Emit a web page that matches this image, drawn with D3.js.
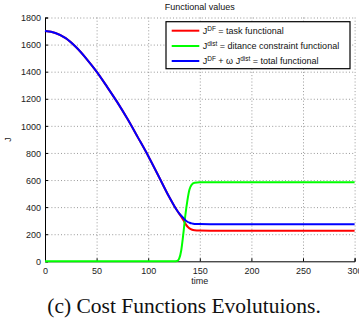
<!DOCTYPE html>
<html><head><meta charset="utf-8">
<script src="https://cdn.jsdelivr.net/npm/d3@7"></script>
<style>html,body{margin:0;padding:0;background:#fff;}svg{display:block;}</style>
</head><body>
<script>
const time     = [0,10,20,30,40,50,60,70,80,90,100,110,120,125,128,130,132,134,136,138,140,142,145,150,160,200,250,300];
const taskF    = [1700,1686,1648,1582,1497,1400,1290,1175,1050,915,778,630,480,412,375,352,330,305,278,257,243,235,229,227,226,226,226,226];
const distF    = [0,0,0,0,0,0,0,0,0,0,0,0,0,0,2,20,80,200,340,450,530,565,580,583,583,583,583,583];
const totalF   = [1700,1686,1648,1582,1497,1400,1290,1175,1050,915,778,630,480,412,375,354,336,320,303,292,285,280,276,275,274,274,274,274];
const xTicks = [0,50,100,150,200,250,300];
const yTicks = [0,200,400,600,800,1000,1200,1400,1600,1800];
const seriesNames = ["task","dist","total"];
const seriesColors = ["#ff0000","#00ff00","#0000ff"];

const W=359,H=321;
const svg=d3.select("body").append("svg").attr("width",W).attr("height",H);
const L=45,R=354.6,T=17.5,B=261.3;
const x=d3.scaleLinear().domain([0,300]).range([L,R]);
const y=d3.scaleLinear().domain([0,1800]).range([B,T]);
const font="'Liberation Sans', Arial, sans-serif";

// grid
const g=svg.append("g");
g.selectAll(".gx").data(xTicks.slice(1)).enter().append("line")
 .attr("x1",d=>x(d)+0.5).attr("x2",d=>x(d)+0.5).attr("y1",T).attr("y2",B)
 .attr("stroke","#555").attr("stroke-width",0.6).attr("stroke-dasharray","1,2.2");
g.selectAll(".gy").data(yTicks.slice(1)).enter().append("line")
 .attr("y1",d=>y(d)+0.5).attr("y2",d=>y(d)+0.5).attr("x1",L).attr("x2",R)
 .attr("stroke","#555").attr("stroke-width",0.6).attr("stroke-dasharray","1,2.2");

// axes
const xAxis=d3.axisBottom(x).tickValues(xTicks).tickSize(-3).tickPadding(6).tickFormat(d3.format("d"));
const yAxis=d3.axisLeft(y).tickValues(yTicks).tickSize(-3).tickPadding(4).tickFormat(d3.format("d"));
const gx=svg.append("g").attr("transform",`translate(0,${B})`).call(xAxis);
const gy=svg.append("g").attr("transform",`translate(${L},0)`).call(yAxis);
[gx,gy].forEach(a=>{
  a.select(".domain").attr("stroke","#000").attr("stroke-width",1);
  a.selectAll(".tick line").attr("stroke","#000");
  a.selectAll("text").attr("font-family",font).attr("font-size",9).attr("fill","#222");
});
gy.selectAll("text").attr("dy","0.35em");

// lines
const data=[taskF,distF,totalF];
const line=d3.line().x((d,i)=>x(time[i])).y(d=>y(d)).curve(d3.curveMonotoneX);
data.forEach((s,k)=>{
  svg.append("path").datum(s).attr("d",line).attr("fill","none")
   .attr("stroke",seriesColors[k]).attr("stroke-width",2).attr("stroke-linejoin","round");
});

// title and labels
svg.append("text").attr("x",(L+R)/2).attr("y",9.5).attr("text-anchor","middle")
 .attr("font-family",font).attr("font-size",9).attr("fill","#111").text("Functional values");
svg.append("text").attr("x",(L+R)/2).attr("y",284).attr("text-anchor","middle")
 .attr("font-family",font).attr("font-size",9).attr("fill","#222").text("time");
svg.append("text").attr("transform",`translate(11,${(T+B)/2}) rotate(-90)`).attr("text-anchor","middle")
 .attr("font-family",font).attr("font-size",9).attr("fill","#222").text("J");

// legend
const lg=svg.append("g");
lg.append("rect").attr("x",166).attr("y",21.7).attr("width",184).attr("height",47)
 .attr("fill","#fff").attr("stroke","#000").attr("stroke-width",1.2);
const rowsY=[30.7,46,61];
const legendParts=[
  [["J",""],["DF","sup"],[" = task functional",""]],
  [["J",""],["dist","sup"],[" = ditance constraint functional",""]],
  [["J",""],["DF","sup"],[" + ω J",""],["dist","sup"],[" = total functional",""]]
];
rowsY.forEach((ry,i)=>{
  lg.append("line").attr("x1",171.7).attr("x2",199.3).attr("y1",ry).attr("y2",ry)
   .attr("stroke",seriesColors[i]).attr("stroke-width",2);
  const t=lg.append("text").attr("x",202.7).attr("y",ry+3.3)
   .attr("font-family",font).attr("font-size",9).attr("fill","#111");
  let sup=false;
  legendParts[i].forEach(p=>{
    const ts=t.append("tspan").text(p[0]);
    if(p[1]==="sup"){ts.attr("font-size",6.5).attr("dy",-3.5);sup=true;}
    else if(sup){ts.attr("dy",3.5);sup=false;}
  });
});

// caption
svg.append("text").attr("x",184).attr("y",313).attr("text-anchor","middle")
 .attr("font-family","'Liberation Serif','Times New Roman',serif").attr("font-size",21.5)
 .attr("fill","#111").text("(c) Cost Functions Evolutuions.");
</script>
</body></html>
